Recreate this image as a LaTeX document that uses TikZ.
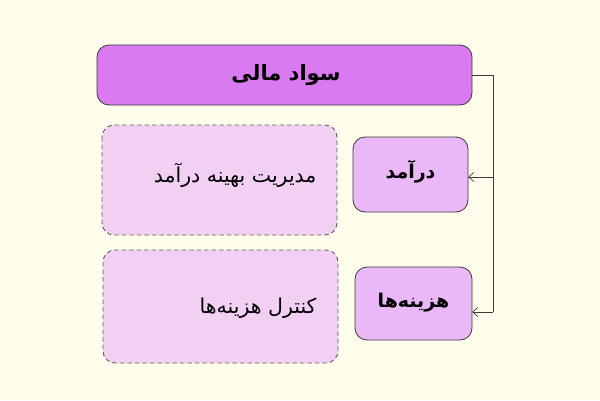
\documentclass[tikz,border=0pt]{standalone}
\usepackage{fontspec}
\usetikzlibrary{arrows.meta}
\TeXXeTstate=1
\newfontfamily\arabicfont[Script=Arabic]{DejaVu Sans}
\definecolor{bgc}{HTML}{FEFDEB}
\definecolor{topc}{HTML}{D97AF0}
\definecolor{midc}{HTML}{EAB8F7}
\definecolor{lightc}{HTML}{F1D0F3}
\definecolor{edgec}{HTML}{3A3A3A}
\definecolor{dashc}{HTML}{5E5E5E}
\tikzset{
  topbox/.style={draw=edgec, line width=0.8pt, fill=topc, rounded corners=12pt},
  midbox/.style={draw=edgec, line width=0.8pt, fill=midc, rounded corners=12pt},
  dashbox/.style={draw=dashc, line width=0.9pt, dash pattern=on 4.5pt off 3pt, fill=lightc, rounded corners=12pt},
  conn/.style={draw=edgec, line width=0.7pt},
  arr/.style={conn, -{Straight Barb[length=5pt,width=9pt]}},
}
\begin{document}
\begin{tikzpicture}[x=1pt,y=-1pt]
\useasboundingbox (0,0) rectangle (600,400);
\fill[bgc] (0,0) rectangle (600,400);
% boxes
\draw[topbox] (97,45) rectangle (472,105);
\node (top) at (284.5,75) [minimum width=375pt, minimum height=60pt, inner sep=0pt] {};
\node at (286,75) {\arabicfont\fontsize{21}{24}\selectfont\bfseries\beginR سواد مالی\endR};
\draw[midbox] (353,137) rectangle (468,212);
\node (inc) at (410.5,174.5) [minimum width=115pt, minimum height=75pt, inner sep=0pt] {};
\node at (410.5,172) {\arabicfont\fontsize{19}{22}\selectfont\bfseries\beginR درآمد\endR};
\draw[midbox] (355,267) rectangle (472,340);
\node (cost) at (413.5,303.5) [minimum width=117pt, minimum height=73pt, inner sep=0pt] {};
\node at (413.5,303) {\arabicfont\fontsize{19}{22}\selectfont\bfseries\beginR هزینه‌ها\endR};
\draw[dashbox] (102,125) rectangle (337,235);
\node (d1) [anchor=east] at (320,175) {\arabicfont\fontsize{20.5}{24}\selectfont\beginR مدیریت بهینه درآمد\endR};
\draw[dashbox] (103,250) rectangle (338,363);
\node (d2) [anchor=east] at (320,308) {\arabicfont\fontsize{20.5}{24}\selectfont\beginR کنترل هزینه‌ها\endR};
% connectors
\coordinate (j0) at (493,75);
\coordinate (j1) at (493,177);
\coordinate (j2) at (493,312);
\draw[conn] (top.east |- j0) -- (j0) -- (j2);
\draw[arr] (j1) -- (inc.east |- j1);
\draw[arr] (j2) -- (cost.east |- j2);
\end{tikzpicture}
\end{document}
